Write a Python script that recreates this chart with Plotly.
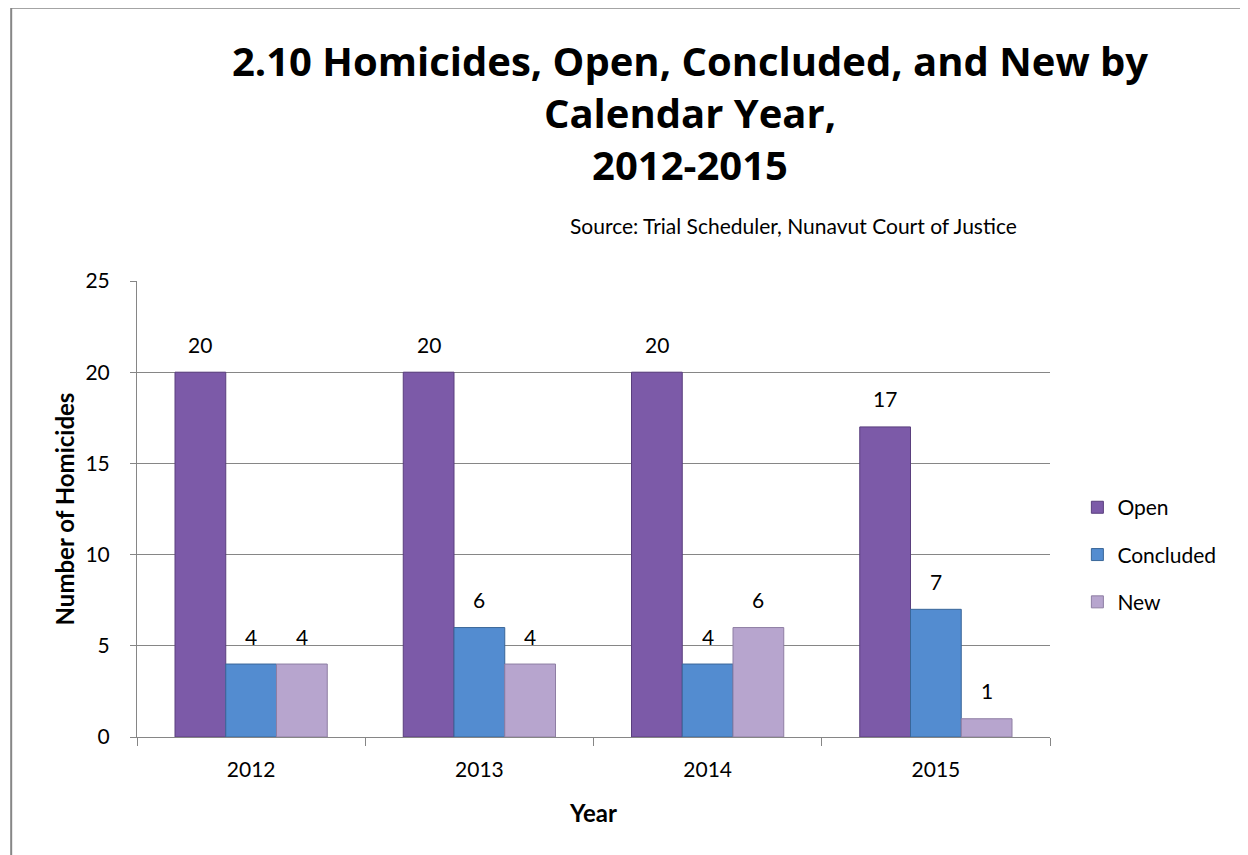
import plotly.graph_objects as go

years = ["2012", "2013", "2014", "2015"]
open_cases = [20, 20, 20, 17]
concluded = [4, 6, 4, 7]
new_cases = [4, 4, 6, 1]

series = [
    ("Open", open_cases, "#7C5AA8", "#5A3F7E"),
    ("Concluded", concluded, "#538CD0", "#3A6699"),
    ("New", new_cases, "#B7A5CE", "#8E7EA3"),
]

FONT = "Lato, Calibri, 'Open Sans', sans-serif"
TITLE_FONT = "'Open Sans', Calibri, sans-serif"

# plot area size in px (used for label offsets within a group)
L, R, T, B = 129, 206, 273, 126
W = 1248
BARGAP = 0.333
bar_px = (W - L - R) / len(years) * (1 - BARGAP) / len(series)

fig = go.Figure()
for i, (name, vals, color, edge) in enumerate(series):
    fig.add_trace(go.Bar(
        x=years, y=vals, name=name, legendgroup=name,
        marker=dict(color=color, line=dict(color=edge, width=1)),
    ))
    # value labels sitting above each bar (x given as category index)
    for j, v in enumerate(vals):
        fig.add_annotation(
            x=j, y=v, text=str(v), showarrow=False,
            xshift=(i - 1) * bar_px, yshift=28,
            xanchor="center", yanchor="middle",
            font=dict(size=21, family=FONT, color="#000000"),
        )

fig.update_layout(
    width=W, height=855,
    paper_bgcolor="white", plot_bgcolor="white",
    font=dict(family=FONT, color="#000000"),
    barmode="group", bargap=BARGAP, bargroupgap=0,
    margin=dict(l=L, r=R, t=T, b=B),
    title=dict(
        text="<b>2.10 Homicides, Open, Concluded, and New by<br>Calendar Year,<br>2012-2015</b>",
        x=0.5465, xanchor="center", y=0.92, yanchor="top",
        font=dict(size=40, family=TITLE_FONT),
    ),
    legend=dict(
        x=1.03, xanchor="left", y=0.40, yanchor="middle",
        font=dict(size=21), tracegroupgap=17, itemwidth=30,
    ),
    showlegend=True,
)

fig.add_annotation(
    text="Source: Trial Scheduler, Nunavut Court of Justice",
    xref="paper", yref="paper", x=0.719, y=1.121,
    xanchor="center", yanchor="middle", showarrow=False,
    font=dict(size=21, family=FONT),
)

fig.update_xaxes(
    type="category", range=[-0.5, len(years) - 0.5],
    showline=True, linecolor="#868686", linewidth=1,
    ticks="outside", tickson="boundaries", ticklen=8, tickcolor="#868686",
    tickfont=dict(size=21), ticklabelstandoff=14,
    title=dict(text="<b>Year</b>", font=dict(size=24), standoff=24),
)
fig.update_yaxes(
    range=[0, 25], dtick=5,
    showline=True, linecolor="#868686", linewidth=1,
    ticks="outside", ticklen=6, tickcolor="#868686",
    showgrid=True, gridcolor="#868686", gridwidth=1,
    tickfont=dict(size=21), ticklabelstandoff=16,
    title=dict(text="<b>Number of Homicides</b>", font=dict(size=24), standoff=4),
    zeroline=False,
)

# outer chart border (extends past the right and bottom edges, as in the source)
fig.add_shape(
    type="rect", xref="paper", yref="paper",
    x0=-0.1378, x1=1.3, y0=-0.4, y1=1.599,
    line=dict(color="#868686", width=2), layer="below",
)

fig.write_html("out.html")
